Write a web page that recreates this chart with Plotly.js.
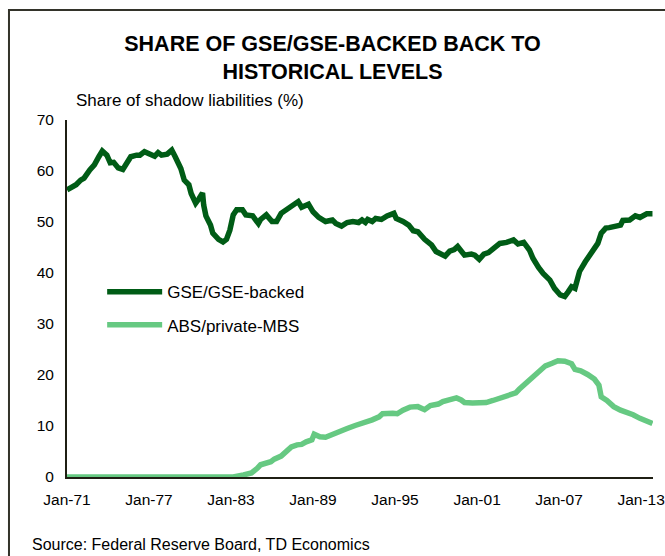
<!DOCTYPE html>
<html>
<head>
<meta charset="utf-8">
<script src="https://cdn.plot.ly/plotly-3.0.1.min.js"></script>
<style>
html,body{margin:0;padding:0;background:#fff;}
#chart{width:665px;height:556px;}
</style>
</head>
<body>
<div id="chart"></div>
<script>
const gseDates = ["1971-01","1971-09","1972-01","1972-04","1972-09","1973-01","1973-05","1973-08","1973-12","1974-03","1974-06","1974-10","1975-02","1975-06","1975-09","1976-02","1976-05","1976-09","1977-02","1977-06","1977-09","1977-12","1978-05","1978-09","1978-12","1979-05","1979-08","1979-12","1980-02","1980-06","1980-09","1980-12","1981-01","1981-03","1981-07","1981-09","1982-02","1982-06","1982-09","1982-12","1983-03","1983-06","1983-11","1984-02","1984-08","1985-01","1985-03","1985-08","1986-01","1986-05","1986-09","1987-03","1987-08","1987-12","1988-03","1988-09","1989-01","1989-06","1989-12","1990-06","1990-09","1991-02","1991-07","1991-12","1992-05","1992-08","1992-11","1993-01","1993-05","1993-08","1994-01","1994-06","1994-12","1995-02","1995-08","1996-01","1996-05","1996-09","1997-03","1997-09","1998-01","1998-06","1998-09","1999-01","1999-05","1999-08","2000-02","2000-08","2000-11","2001-03","2001-07","2001-11","2002-03","2002-09","2003-03","2003-09","2004-01","2004-06","2004-11","2005-02","2005-07","2005-11","2006-05","2006-09","2007-02","2007-06","2007-09","2007-12","2008-03","2008-07","2008-12","2009-05","2009-11","2010-02","2010-06","2010-09","2011-03","2011-07","2011-09","2012-03","2012-08","2012-12","2013-06","2013-11"];
const gseValues = [56.3,57.3,58.2,58.6,60.2,61.2,62.8,63.9,63.1,61.6,61.7,60.6,60.3,61.5,62.8,63.1,63.1,63.8,63.3,62.9,63.6,63.1,63.3,64.1,62.8,60.5,58.2,57.3,55.6,53.7,54.6,55.7,53.3,51.2,49.4,47.8,46.6,46.1,46.6,48.4,51.4,52.4,52.4,51.4,51.2,49.7,50.5,51.4,50.1,50.1,51.7,52.7,53.3,54.0,52.9,53.5,52.0,50.9,50.1,50.4,49.7,49.2,49.9,50.1,49.9,50.4,49.9,50.5,50.1,50.7,50.5,51.2,51.7,50.7,50.1,49.4,48.3,48.1,46.6,45.5,44.2,43.5,43.3,44.3,44.6,45.2,43.5,43.7,43.5,42.7,43.7,44.0,44.8,45.8,46.0,46.5,45.7,46.0,44.5,42.9,41.1,39.9,38.6,37.0,35.7,35.4,36.3,37.3,37.0,40.3,42.2,43.9,45.8,47.8,48.8,48.9,49.1,49.4,50.3,50.4,51.2,50.9,51.6,51.6];

const absDates = ["1971-01","1983-03","1983-12","1984-07","1984-12","1985-03","1985-12","1986-03","1986-09","1987-02","1987-06","1987-11","1988-03","1988-07","1988-12","1989-02","1989-07","1989-12","1990-06","1991-01","1991-07","1992-02","1992-09","1993-05","1993-11","1994-02","1994-11","1995-03","1995-08","1996-02","1996-09","1997-03","1997-08","1998-03","1998-07","1998-12","1999-07","1999-11","2000-02","2000-09","2001-03","2001-09","2002-03","2002-11","2003-05","2003-11","2004-02","2004-07","2005-01","2005-07","2006-01","2006-07","2006-12","2007-06","2007-12","2008-03","2008-08","2009-02","2009-08","2009-12","2010-02","2010-07","2011-01","2011-07","2011-12","2012-06","2012-12","2013-06","2013-11"];
const absValues = [0,0,0.4,0.8,1.7,2.4,3.0,3.5,4.1,5.3,5.9,6.3,6.4,6.9,7.3,8.4,7.9,7.8,8.4,8.9,9.5,10.1,10.5,11.2,11.8,12.4,12.5,12.4,13.1,13.7,13.8,13.2,14.0,14.3,14.8,15.2,15.5,15.1,14.6,14.5,14.6,14.6,15.0,15.6,16.3,16.5,17.2,18.2,19.2,20.5,21.8,22.3,22.8,22.7,22.2,21.1,20.8,20.1,19.2,18.0,15.7,15.0,13.8,13.1,12.8,12.2,11.5,11.0,10.5];

const seriesNames = ["GSE/GSE-backed","ABS/private-MBS"];
const tickDates = ["1971-01-01","1977-01-01","1983-01-01","1989-01-01","1995-01-01","2001-01-01","2007-01-01","2013-01-01"];
const tickLabels = ["Jan-71","Jan-77","Jan-83","Jan-89","Jan-95","Jan-01","Jan-07","Jan-13"];
const yTicks = [0,10,20,30,40,50,60,70];

const FONT = "Liberation Sans, Arial, sans-serif";

const traces = [
  {x: gseDates, y: gseValues, name: seriesNames[0], type: "scatter", mode: "lines",
   line: {color: "#005c16", width: 5.5}, legendgroup: "a"},
  {x: absDates, y: absValues, name: seriesNames[1], type: "scatter", mode: "lines",
   line: {color: "#66c982", width: 5.5}, legendgroup: "b"}
];

const layout = {
  width: 665, height: 556,
  margin: {l: 67, r: 12, t: 120, b: 79},
  paper_bgcolor: "#ffffff", plot_bgcolor: "#ffffff",
  font: {family: FONT, color: "#000", size: 15},
  title: {text: "<b>SHARE OF GSE/GSE-BACKED BACK TO<br>HISTORICAL LEVELS</b>",
          font: {family: FONT, size: 21.5, color: "#000"},
          x: 0.5, xref: "container", xanchor: "center",
          y: 0.909, yref: "container", yanchor: "middle"},
  xaxis: {type: "date", range: ["1971-01-01", "2013-11-15"],
          tickvals: tickDates, ticktext: tickLabels,
          showgrid: false, zeroline: false, showline: true, linecolor: "#1f1f14", linewidth: 2,
          ticks: "", ticklabelstandoff: 7, tickfont: {size: 15.5, family: FONT}},
  yaxis: {range: [0, 70], tickvals: yTicks, showgrid: false, zeroline: false,
          showline: true, linecolor: "#1f1f14", linewidth: 2,
          ticks: "", ticklabelstandoff: 8, tickfont: {size: 15.5, family: FONT}},
  showlegend: true,
  legend: {x: 0.06, y: 0.568, xanchor: "left", yanchor: "top",
           font: {size: 17, family: FONT}, bgcolor: "rgba(0,0,0,0)",
           tracegroupgap: 8, itemwidth: 55},
  annotations: [
    {text: "Share of shadow liabilities (%)", xref: "paper", yref: "paper",
     x: 0.012, y: 1.056, xanchor: "left", yanchor: "middle", showarrow: false,
     font: {size: 17, family: FONT}},
    {text: "Source: Federal Reserve Board, TD Economics", xref: "paper", yref: "paper",
     x: -0.063, y: -0.188, xanchor: "left", yanchor: "middle", showarrow: false,
     font: {size: 16, family: FONT}}
  ],
  shapes: [
    {type: "rect", xref: "paper", yref: "paper", x0: -0.099, x1: 1.2, y0: -0.4, y1: 1.308,
     line: {color: "#33332a", width: 2}, fillcolor: "rgba(0,0,0,0)", layer: "below"}
  ]
};

Plotly.newPlot("chart", traces, layout, {displayModeBar: false, staticPlot: true});
</script>
</body>
</html>
